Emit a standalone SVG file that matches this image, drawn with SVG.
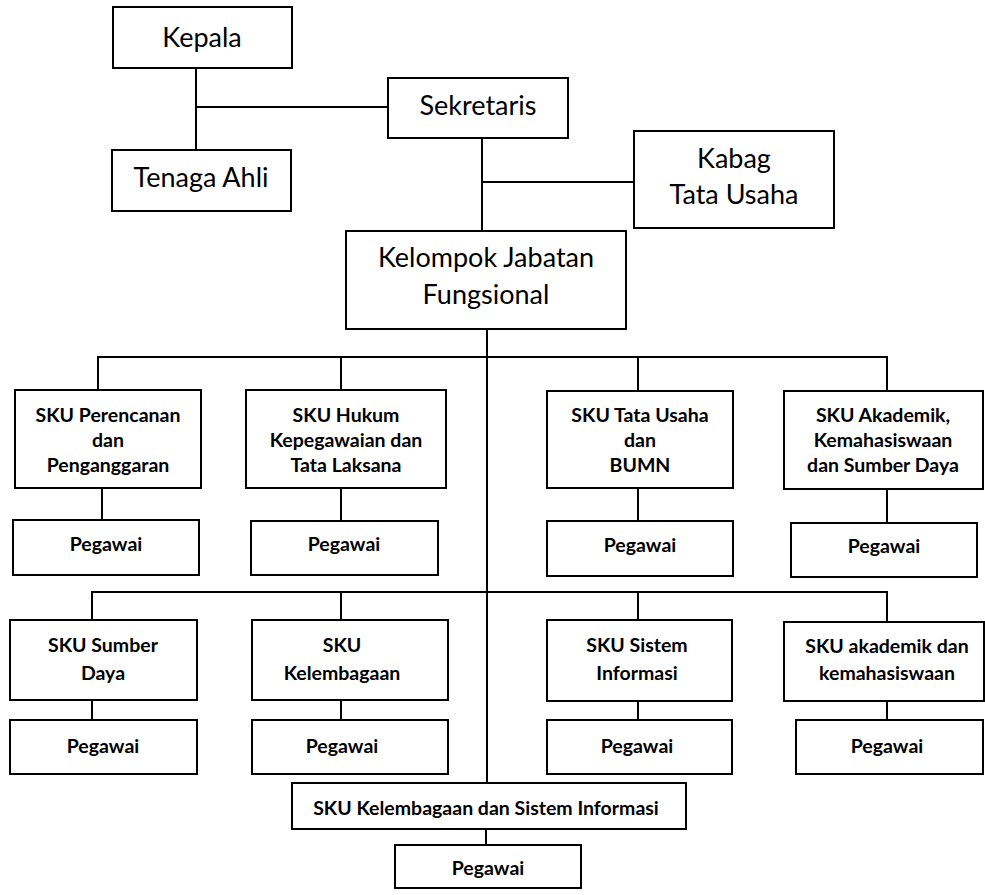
<svg xmlns="http://www.w3.org/2000/svg" width="985" height="895" viewBox="0 0 985 895">
<style>
rect{fill:#fff;stroke:#000;stroke-width:2}
.c line{stroke:#000;stroke-width:2}
text{font-family:Lato,"Liberation Sans",sans-serif;fill:#000;text-anchor:middle}
.r{font-size:27px}
.b{font-size:19.5px;font-weight:bold}
</style>
<rect x="0" y="0" width="985" height="895" style="fill:#fff;stroke:none"/>
<g class="c" id="connectors">
<line x1="196" y1="68" x2="196" y2="150"/>
<line x1="196" y1="107" x2="388" y2="107"/>
<line x1="482" y1="138" x2="482" y2="231"/>
<line x1="482" y1="182" x2="634" y2="182"/>
<line x1="487" y1="329" x2="487" y2="783"/>
<line x1="97" y1="357" x2="888" y2="357"/>
<line x1="98" y1="357" x2="98" y2="390"/>
<line x1="341" y1="357" x2="341" y2="390"/>
<line x1="638" y1="357" x2="638" y2="391"/>
<line x1="887" y1="356" x2="887" y2="391"/>
<line x1="102" y1="488" x2="102" y2="520"/>
<line x1="341" y1="488" x2="341" y2="521"/>
<line x1="638" y1="488" x2="638" y2="521"/>
<line x1="887" y1="489" x2="887" y2="523"/>
<line x1="91" y1="592" x2="888" y2="592"/>
<line x1="92" y1="591" x2="92" y2="620"/>
<line x1="341" y1="592" x2="341" y2="620"/>
<line x1="638" y1="592" x2="638" y2="620"/>
<line x1="887" y1="591" x2="887" y2="622"/>
<line x1="92" y1="700" x2="92" y2="720"/>
<line x1="341" y1="700" x2="341" y2="720"/>
<line x1="638" y1="701" x2="638" y2="720"/>
<line x1="887" y1="701" x2="887" y2="720"/>
<line x1="486" y1="829" x2="486" y2="845"/>
</g>
<g id="kepala"><rect x="113" y="7" width="179" height="61"/><text class="r" x="202" y="47">Kepala</text></g>
<g id="tenaga-ahli"><rect x="112" y="150" width="179" height="61"/><text class="r" x="201" y="187">Tenaga Ahli</text></g>
<g id="sekretaris"><rect x="388" y="78" width="180" height="60"/><text class="r" x="478" y="115">Sekretaris</text></g>
<g id="kabag"><rect x="634" y="131" width="200" height="97"/><text class="r" x="734" y="168">Kabag</text><text class="r" x="734" y="204">Tata Usaha</text></g>
<g id="kelompok"><rect x="346" y="231" width="280" height="98"/><text class="r" x="486" y="267">Kelompok Jabatan</text><text class="r" x="486" y="304">Fungsional</text></g>
<g id="sku-perencanan"><rect x="15" y="390" width="186" height="98"/><text class="b" x="108" y="422">SKU Perencanan</text><text class="b" x="108" y="447">dan</text><text class="b" x="108" y="472">Penganggaran</text></g>
<g id="pegawai-1"><rect x="13" y="520" width="186" height="55"/><text class="b" x="106" y="551">Pegawai</text></g>
<g id="sku-hukum"><rect x="246" y="390" width="200" height="98"/><text class="b" x="346" y="422">SKU Hukum</text><text class="b" x="346" y="447">Kepegawaian dan</text><text class="b" x="346" y="472">Tata Laksana</text></g>
<g id="pegawai-2"><rect x="251" y="521" width="187" height="54"/><text class="b" x="344" y="551">Pegawai</text></g>
<g id="sku-tata-usaha"><rect x="547" y="391" width="186" height="97"/><text class="b" x="640" y="422">SKU Tata Usaha</text><text class="b" x="640" y="447">dan</text><text class="b" x="640" y="472">BUMN</text></g>
<g id="pegawai-3"><rect x="547" y="521" width="186" height="55"/><text class="b" x="640" y="552">Pegawai</text></g>
<g id="sku-akademik"><rect x="784" y="391" width="199" height="98"/><text class="b" x="883" y="422">SKU Akademik,</text><text class="b" x="883" y="447">Kemahasiswaan</text><text class="b" x="883" y="472">dan Sumber Daya</text></g>
<g id="pegawai-4"><rect x="791" y="523" width="186" height="54"/><text class="b" x="884" y="553">Pegawai</text></g>
<g id="sku-sumber-daya"><rect x="10" y="620" width="187" height="80"/><text class="b" x="103" y="652">SKU Sumber</text><text class="b" x="103" y="680">Daya</text></g>
<g id="pegawai-5"><rect x="10" y="720" width="187" height="54"/><text class="b" x="103" y="753">Pegawai</text></g>
<g id="sku-kelembagaan"><rect x="252" y="620" width="196" height="80"/><text class="b" x="342" y="652">SKU</text><text class="b" x="342" y="680">Kelembagaan</text></g>
<g id="pegawai-6"><rect x="252" y="720" width="196" height="54"/><text class="b" x="342" y="753">Pegawai</text></g>
<g id="sku-sistem-informasi"><rect x="547" y="620" width="185" height="81"/><text class="b" x="637" y="652">SKU Sistem</text><text class="b" x="637" y="680">Informasi</text></g>
<g id="pegawai-7"><rect x="547" y="720" width="185" height="54"/><text class="b" x="637" y="753">Pegawai</text></g>
<g id="sku-akademik-kemahasiswaan"><rect x="784" y="622" width="200" height="79"/><text class="b" x="887" y="653">SKU akademik dan</text><text class="b" x="887" y="680">kemahasiswaan</text></g>
<g id="pegawai-8"><rect x="796" y="720" width="187" height="54"/><text class="b" x="887" y="753">Pegawai</text></g>
<g id="sku-kelembagaan-si"><rect x="292" y="783" width="394" height="46"/><text class="b" x="486" y="815">SKU Kelembagaan dan Sistem Informasi</text></g>
<g id="pegawai-9"><rect x="395" y="845" width="186" height="43"/><text class="b" x="488" y="875">Pegawai</text></g>
</svg>
